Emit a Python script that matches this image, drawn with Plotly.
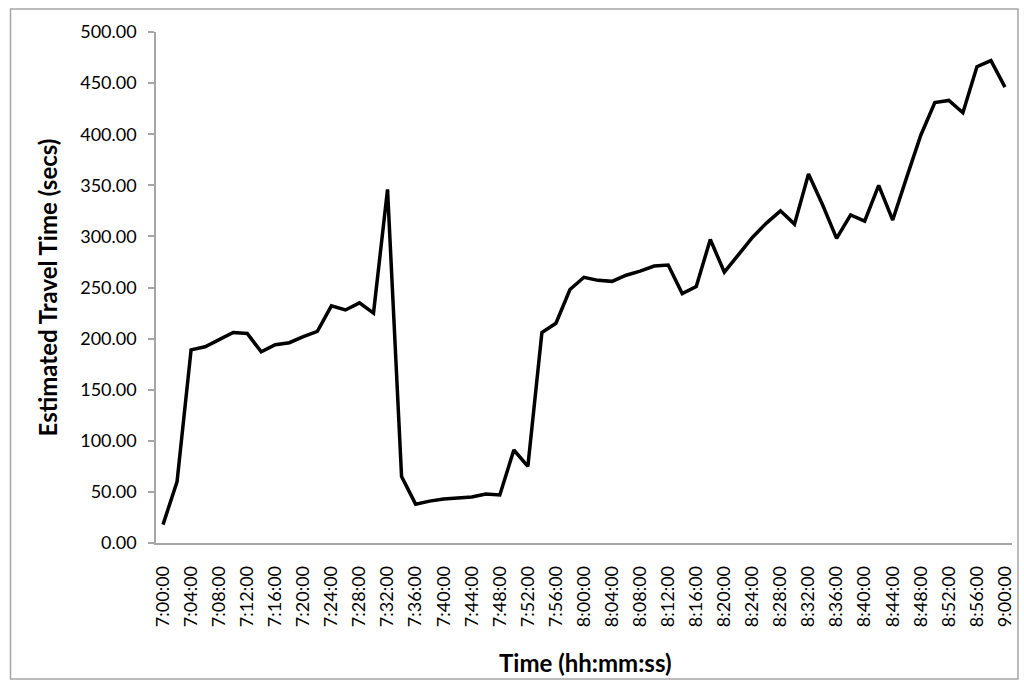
import plotly.graph_objects as go

# Sample times (every 2 minutes) and estimated travel time in seconds
times = [
    "7:00:00", "7:02:00", "7:04:00", "7:06:00", "7:08:00", "7:10:00", "7:12:00",
    "7:14:00", "7:16:00", "7:18:00", "7:20:00", "7:22:00", "7:24:00", "7:26:00",
    "7:28:00", "7:30:00", "7:32:00", "7:34:00", "7:36:00", "7:38:00", "7:40:00",
    "7:42:00", "7:44:00", "7:46:00", "7:48:00", "7:50:00", "7:52:00", "7:54:00",
    "7:56:00", "7:58:00", "8:00:00", "8:02:00", "8:04:00", "8:06:00", "8:08:00",
    "8:10:00", "8:12:00", "8:14:00", "8:16:00", "8:18:00", "8:20:00", "8:22:00",
    "8:24:00", "8:26:00", "8:28:00", "8:30:00", "8:32:00", "8:34:00", "8:36:00",
    "8:38:00", "8:40:00", "8:42:00", "8:44:00", "8:46:00", "8:48:00", "8:50:00",
    "8:52:00", "8:54:00", "8:56:00", "8:58:00", "9:00:00",
]
travel_secs = [
    18, 60, 189, 192, 199, 206, 205,
    187, 194, 196, 202, 207, 232, 228,
    235, 225, 346, 65, 38, 41, 43,
    44, 45, 48, 47, 91, 75, 206,
    215, 248, 260, 257, 256, 262, 266,
    271, 272, 244, 251, 297, 265, 282,
    299, 313, 325, 312, 361, 331, 298,
    321, 315, 350, 316, 358, 399, 431,
    433, 421, 466, 472, 446,
]
# Labelled ticks every 4 minutes
tick_labels = times[::2]
y_ticks = [0, 50, 100, 150, 200, 250, 300, 350, 400, 450, 500]

W, H = 1024, 688
L, R, T, B = 156, 1015, 32, 543  # plot area in pixels
AXIS_GREY = "#a6a6a6"
FONT = "Lato"

fig = go.Figure(
    go.Scatter(
        x=times,
        y=travel_secs,
        mode="lines",
        line=dict(color="black", width=3.5),
        hoverinfo="x+y",
    )
)

def px_to_paper_x(px):
    return (px - L) / (R - L)

def px_to_paper_y(py):
    return (B - py) / (B - T)

fig.update_layout(
    width=W,
    height=H,
    margin=dict(l=L, r=W - R, t=T, b=H - B),
    paper_bgcolor="white",
    plot_bgcolor="white",
    showlegend=False,
    font=dict(family=FONT, color="black", size=18),
    xaxis=dict(
        type="category",
        range=[-0.5, len(times) - 0.5],
        tickmode="array",
        tickvals=tick_labels,
        ticktext=tick_labels,
        tickangle=-90,
        ticks="",
        ticklabelstandoff=14,
        showline=True,
        linecolor=AXIS_GREY,
        linewidth=1.5,
        showgrid=False,
        zeroline=False,
        tickfont=dict(family=FONT, size=18),
    ),
    yaxis=dict(
        range=[0, 500],
        tickmode="array",
        tickvals=y_ticks,
        tickformat=".2f",
        ticks="outside",
        ticklen=6,
        tickcolor=AXIS_GREY,
        tickwidth=1.5,
        ticklabelstandoff=8,
        showline=True,
        linecolor=AXIS_GREY,
        linewidth=1.5,
        showgrid=False,
        zeroline=False,
        tickfont=dict(family=FONT, size=18),
    ),
    shapes=[
        dict(
            type="rect",
            xref="paper",
            yref="paper",
            x0=px_to_paper_x(10),
            x1=px_to_paper_x(1021),
            y0=px_to_paper_y(679),
            y1=px_to_paper_y(9),
            line=dict(color=AXIS_GREY, width=1.5),
            fillcolor="rgba(0,0,0,0)",
            layer="below",
        )
    ],
    annotations=[
        dict(
            text="<b>Estimated Travel Time (secs)</b>",
            xref="paper",
            yref="paper",
            x=px_to_paper_x(47),
            y=px_to_paper_y(287),
            textangle=-90,
            showarrow=False,
            xanchor="center",
            yanchor="middle",
            font=dict(family=FONT, size=24, color="black"),
        ),
        dict(
            text="<b>Time (hh:mm:ss)</b>",
            xref="paper",
            yref="paper",
            x=px_to_paper_x(587),
            y=px_to_paper_y(662),
            showarrow=False,
            xanchor="center",
            yanchor="middle",
            font=dict(family=FONT, size=24, color="black"),
        ),
    ],
)

fig.write_html("out.html")
